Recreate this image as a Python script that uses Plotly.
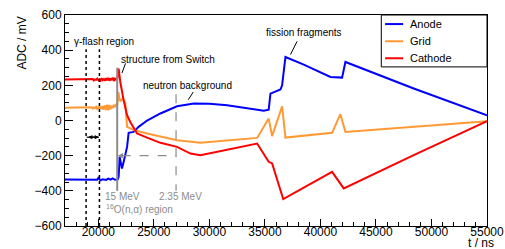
import plotly.graph_objects as go

# ---------------- data ----------------
anode_t = [17000, 19400, 19700, 19900, 20000, 20200, 20400, 20700, 20900, 21100, 21300, 21500, 21750,
           21830, 21920, 22130, 22300, 22590, 22730, 23180, 23630, 24390, 25590, 27090, 28600, 30000,
           31600, 34300, 34900, 35340, 35500, 36400, 36550, 36850, 38500, 40900, 41950, 42250, 45000,
           48400, 55000]
anode_v = [-335, -335, -333, -337, -326, -340, -334, -338, -330, -336, -329, -337, -335,
           -320, -207, -273, -230, -150, -70, -65, -36, 0, 40, 81, 97, 95,
           87, 58, 55, 62, 153, 176, 200, 361, 318, 248, 244, 333, 265,
           182, 30]

grid_t = [17000, 19300, 19400, 19500, 19600, 19700, 19800, 19900, 20000, 20100, 20200, 20300, 20400,
          20500, 20600, 20700, 20800, 20900, 21000, 21100, 21200, 21300, 21400, 21500, 21600, 21700,
          21800, 21950, 22220, 22430, 22500, 22590, 22880, 23180, 24390, 26200, 27090, 29190, 34300,
          35340, 35650, 36550, 36850, 41050, 41800, 42250, 55000]
grid_v = [72, 72, 76, 68, 74, 70, 78, 66, 75, 69, 80, 64, 82,
          62, 86, 60, 90, 58, 88, 64, 84, 70, 86, 80, 90, 88,
          162, 110, 125, 100, 20, -36, -45, -55, -74, -102, -112, -127, -99,
          11, -89, 81, -97, -70, 36, -65, -4]

cathode_t = [17000, 19300, 19400, 19500, 19600, 19700, 19800, 19900, 20000, 20100, 20200, 20300,
             20400, 20500, 20600, 20700, 20800, 20900, 21000, 21100, 21200, 21300, 21400, 21500,
             21600, 21700, 21830, 21980, 22280, 22590, 22880, 23490, 24390, 25590, 27090, 28300,
             29190, 34300, 35340, 35650, 36650, 41050, 42100, 48400, 55000]
cathode_v = [233, 233, 232, 236, 228, 234, 231, 238, 229, 235, 227, 240,
             230, 236, 226, 241, 228, 243, 226, 240, 229, 244, 225, 238,
             232, 236, 295, 219, 115, 30, -8, -74, -97, -127, -150, -188,
             -197, -131, -235, -244, -447, -292, -386, -197, -4]

series_names = ["Anode", "Grid", "Cathode"]
series_colors = ["#0000ff", "#ff9933", "#ff0000"]

x_range = [17000, 55000]
y_range = [-600, 600]
x_ticks = [20000, 25000, 30000, 35000, 40000, 45000, 50000, 55000]
y_ticks = [-600, -400, -200, 0, 200, 400, 600]

FONT = "Liberation Sans, Arial, Helvetica, sans-serif"
GRAY = "#8c8c8c"

fig = go.Figure()
for t, v, n, c in zip([anode_t, grid_t, cathode_t], [anode_v, grid_v, cathode_v],
                      series_names, series_colors):
    fig.add_trace(go.Scatter(x=t, y=v, mode="lines", name=n, line=dict(color=c, width=2),
                             hoverinfo="skip"))

shapes = []
# gamma flash region dotted lines
for xv in [18900, 20100]:
    shapes.append(dict(type="line", xref="x", yref="y", x0=xv, x1=xv, y0=-600, y1=405,
                       line=dict(color="black", width=1.5, dash="dot")))
# switch structure gray line
shapes.append(dict(type="line", xref="x", yref="y", x0=21700, x1=21700, y0=-400, y1=300,
                   line=dict(color=GRAY, width=2)))
# 16O(n,a) region dashed lines
shapes.append(dict(type="line", xref="x", yref="y", x0=22100, x1=27000, y0=-200, y1=-200,
                   line=dict(color=GRAY, width=1.2, dash="dash")))
shapes.append(dict(type="line", xref="x", yref="y", x0=27000, x1=27000, y0=150, y1=-400,
                   line=dict(color=GRAY, width=1.2, dash="dash")))
# leader lines
shapes.append(dict(type="line", xref="x", yref="y", x0=22130, x1=22450, y0=270, y1=325,
                   line=dict(color="black", width=1)))
shapes.append(dict(type="line", xref="x", yref="y", x0=28100, x1=28550, y0=118, y1=162,
                   line=dict(color="black", width=1)))
shapes.append(dict(type="line", xref="x", yref="y", x0=37300, x1=37900, y0=375, y1=450,
                   line=dict(color="black", width=1)))
# double-headed arrow shaft
shapes.append(dict(type="line", xref="x", yref="y", x0=18950, x1=20050, y0=-95, y1=-95,
                   line=dict(color="black", width=1.2)))

ann = []
ann.append(dict(x=20050, y=-95, ax=18950, ay=-95, xref="x", yref="y", axref="x", ayref="y",
                text="", showarrow=True, arrowside="end+start", arrowhead=2, arrowsize=0.7,
                arrowwidth=1.2, arrowcolor="black"))
ann.append(dict(x=21750, y=-200, ax=22300, ay=-200, xref="x", yref="y", axref="x", ayref="y",
                text="", showarrow=True, arrowhead=2, arrowsize=0.8, arrowwidth=1.3,
                arrowcolor=GRAY))

def txt(x, y, s, color="black", size=10, xanchor="left"):
    ann.append(dict(x=x, y=y, xref="x", yref="y", text=s, showarrow=False, xanchor=xanchor,
                    yanchor="middle", font=dict(family=FONT, size=size, color=color)))

txt(20500, 450, "γ-flash region", xanchor="center")
txt(21900, 347, "structure from Switch")
txt(23850, 200, "neutron background")
txt(34950, 500, "fission fragments")
txt(20450, -430, "15 MeV", color=GRAY)
txt(25300, -430, "2.35 MeV", color=GRAY)
txt(20550, -504, "<sup>16</sup>O(n,α) region", color=GRAY)

# legend box (drawn in paper coordinates, top-right of the frame)
shapes.append(dict(type="rect", xref="paper", yref="paper", x0=0.7495, x1=1.0, y0=0.754, y1=1.0,
                   line=dict(color="black", width=1), fillcolor="white", layer="above"))
leg_y = [0.957, 0.8755, 0.795]
for n, c, yy in zip(series_names, series_colors, leg_y):
    shapes.append(dict(type="line", xref="paper", yref="paper", x0=0.7585, x1=0.8012, y0=yy, y1=yy,
                       line=dict(color=c, width=2), layer="above"))
    ann.append(dict(x=0.8135, y=yy, xref="paper", yref="paper", text=n, showarrow=False,
                    xanchor="left", yanchor="middle", font=dict(family=FONT, size=11, color="black")))

ann.append(dict(x=1.022, y=-0.082, xref="paper", yref="paper", text="t / ns", showarrow=False,
                xanchor="right", yanchor="middle", font=dict(family=FONT, size=12, color="black")))
ann.append(dict(x=-0.104, y=1, xref="paper", yref="paper", text="ADC / mV", showarrow=False,
                textangle=-90, xanchor="center", yanchor="top",
                font=dict(family=FONT, size=12, color="black")))

fig.update_layout(
    width=505, height=249,
    margin=dict(l=65, r=18, t=15, b=23),
    paper_bgcolor="white", plot_bgcolor="white",
    font=dict(family=FONT, size=12, color="black"),
    shapes=shapes, annotations=ann,
    showlegend=False,
    xaxis=dict(range=x_range, tickvals=x_ticks, tickformat="d", ticks="inside", ticklen=7,
               tickcolor="black", showline=True, linecolor="black", linewidth=1, mirror=True,
               showgrid=False, zeroline=False, automargin=False, ticklabelstandoff=-5,
               minor=dict(dtick=1000, tick0=0, ticks="inside", ticklen=4, tickcolor="black")),
    yaxis=dict(range=y_range, tickvals=y_ticks, tickformat="d", ticks="inside", ticklen=8,
               tickcolor="black", showline=True, linecolor="black", linewidth=1, mirror=True,
               showgrid=False, zeroline=False, automargin=False,
               minor=dict(dtick=50, tick0=0, ticks="inside", ticklen=4, tickcolor="black")),
)

fig.write_html("out.html", config={"displayModeBar": False},
               post_script="document.body.style.margin='0';")
